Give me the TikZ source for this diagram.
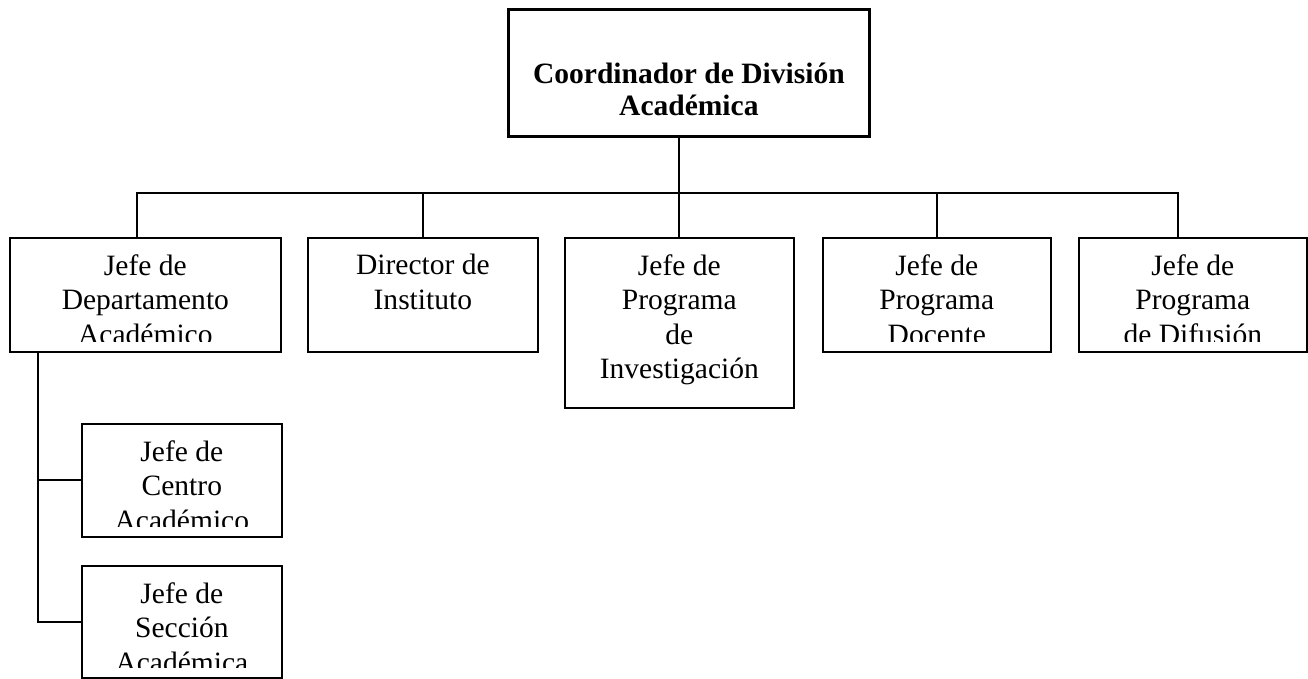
\documentclass[tikz,border=0pt]{standalone}
\usepackage{fontspec}
\setmainfont{Liberation Serif}
\begin{document}
\begin{tikzpicture}
            [x=0.02cm, y=-0.02cm,
             cargo/.style={rectangle,
                        draw,
                        line width=1pt,
                        anchor=north west,
                        minimum height=2.28cm,
                        inner sep=0pt},
             texto/.style={align=center,
                        inner sep=0pt,
                        anchor=north,
                        font=\fontsize{16.8}{19.6}\selectfont}]

            \useasboundingbox (0,0) rectangle (1308,679);

            \node[cargo, line width=1.6pt, minimum width=7.22cm, minimum height=2.54cm] (coordinador) at (507,8) {};
            \node[texto, font=\fontsize{16.8}{18.5}\selectfont\bfseries] (coordinadorTxt) at ([yshift=-1.09cm]coordinador.north) {Coordinador de División\\Académica};

            \node[cargo, minimum width=5.42cm] (departamento) at (9,237) {};
            \node[cargo, minimum width=4.6cm] (instituto) at (307,237) {};
            \node[cargo, minimum width=4.58cm, minimum height=3.4cm] (investigacion) at (564,237) {};
            \node[cargo, minimum width=4.56cm] (docente) at (822,237) {};
            \node[cargo, minimum width=4.56cm] (difusion) at (1078,237) {};
            \node[cargo, minimum width=4cm, minimum height=2.26cm] (centro) at (81,423) {};
            \node[cargo, minimum width=4cm, minimum height=2.24cm] (seccion) at (81,565) {};

            \node[texto] (institutoTxt) at ([yshift=-0.34cm]instituto.north) {Director de\\Instituto};
            \node[texto] (investigacionTxt) at ([yshift=-0.34cm]investigacion.north) {Jefe de\\Programa\\de\\Investigación};

            % los textos largos quedan cortados por la caja
            \begin{scope}
                \clip (departamento.north west) rectangle ([yshift=0.22cm]departamento.south east);
                \node[texto] (departamentoTxt) at ([yshift=-0.34cm]departamento.north) {Jefe de\\Departamento\\Académico};
            \end{scope}
            \begin{scope}
                \clip (docente.north west) rectangle ([yshift=0.22cm]docente.south east);
                \node[texto] (docenteTxt) at ([yshift=-0.34cm]docente.north) {Jefe de\\Programa\\Docente};
            \end{scope}
            \begin{scope}
                \clip (difusion.north west) rectangle ([yshift=0.22cm]difusion.south east);
                \node[texto] (difusionTxt) at ([yshift=-0.34cm]difusion.north) {Jefe de\\Programa\\de Difusión};
            \end{scope}
            \begin{scope}
                \clip (centro.north west) rectangle ([yshift=0.22cm]centro.south east);
                \node[texto] (centroTxt) at ([yshift=-0.34cm]centro.north) {Jefe de\\Centro\\Académico};
            \end{scope}
            \begin{scope}
                \clip (seccion.north west) rectangle ([yshift=0.22cm]seccion.south east);
                \node[texto] (seccionTxt) at ([yshift=-0.34cm]seccion.north) {Jefe de\\Sección\\Académica};
            \end{scope}

            \coordinate (busIzq) at (137,193);
            \coordinate (busDer) at (1178,193);
            \coordinate (tronco) at (38,351);

            \draw [line width=1pt] (coordinador.south -| investigacion.north) to (investigacion.north);
            \draw [line width=1pt] (busIzq |- departamento.north) to (busIzq) to (busDer) to (busDer |- difusion.north);
            \draw [line width=1pt] (instituto.north) to (instituto.north |- busIzq);
            \draw [line width=1pt] (docente.north) to (docente.north |- busIzq);
            \draw [line width=1pt] (tronco) |- (seccion.west);
            \draw [line width=1pt] (centro.west) to (centro.west -| tronco);
        \end{tikzpicture}
\end{document}
